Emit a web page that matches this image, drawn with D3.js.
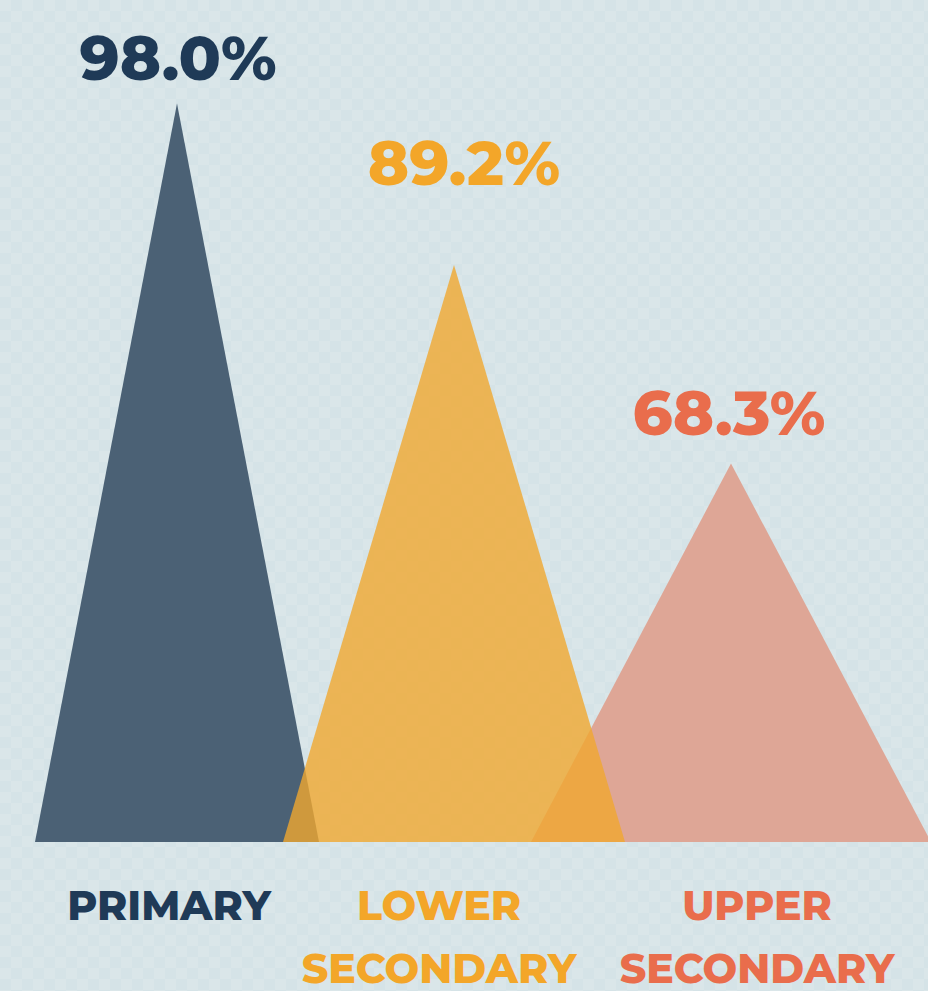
<!DOCTYPE html>
<html>
<head>
<meta charset="utf-8">
<script src="https://cdn.jsdelivr.net/npm/d3@7"></script>
<style>
  html, body { margin: 0; padding: 0; background: #d5e3e7; }
  svg { display: block; }
  text { font-family: Montserrat, Inter, "Open Sans", sans-serif; font-weight: 800; }
</style>
</head>
<body>
<svg id="chart" width="928" height="991"></svg>
<script>
// data
var categories = ["PRIMARY", "LOWER SECONDARY", "UPPER SECONDARY"];
var values = [98.0, 89.2, 68.3];
var valueLabels = ["98.0%", "89.2%", "68.3%"];

var svg = d3.select("#chart"),
    width = +svg.attr("width"),
    height = +svg.attr("height"),
    baseY = 842;

// colours: text / triangle fill
var textColor = ["#1f3a57", "#f3a629", "#e96d4c"],
    fillColor = ["#4b6175", "#f0a830", "#dea696"],
    fillOpacity = [1, 0.8, 1];

// background with a faint checker texture
var defs = svg.append("defs");
var pat = defs.append("pattern")
    .attr("id", "bgpat")
    .attr("width", 22).attr("height", 22)
    .attr("patternUnits", "userSpaceOnUse");
pat.append("rect").attr("width", 22).attr("height", 22).attr("fill", "#d5e3e7");
pat.append("rect").attr("width", 11).attr("height", 11).attr("fill", "#dae6e9");
pat.append("rect").attr("x", 11).attr("y", 11).attr("width", 11).attr("height", 11).attr("fill", "#dae6e9");
svg.append("rect").attr("width", width).attr("height", height).attr("fill", "url(#bgpat)");

// scales - the infographic's vertical scale is not linear, so a stepped (polylinear) one
var y = d3.scaleLinear()
    .domain([0, 70, 90, 100])
    .range([baseY, 454, 257, 65]);

var x = d3.scalePoint()
    .domain(categories)
    .range([177, 731]);

// each triangle gets a wider base than the one before
var halfW = d3.scaleLinear().domain([0, categories.length - 1]).range([142, 200]);

var rows = categories.map(function(c, i) {
    return { cat: c, value: values[i], label: valueLabels[i], i: i };
});

// drawing order: primary, upper, then lower on top (it is the see-through one)
var order = [0, 2, 1];

svg.append("g")
  .selectAll("path")
  .data(order.map(function(i) { return rows[i]; }))
  .join("path")
    .attr("d", function(d) {
        var cx = x(d.cat), w = halfW(d.i);
        return "M" + (cx - w) + "," + y(0) +
               "L" + cx + "," + y(d.value) +
               "L" + (cx + w) + "," + y(0) + "Z";
    })
    .attr("fill", function(d) { return fillColor[d.i]; })
    .attr("fill-opacity", function(d) { return fillOpacity[d.i]; });

// value labels above apex
var valueDx = [1, 10, -2],
    valueGap = [23, 80, 28];
svg.append("g")
  .selectAll("text")
  .data(rows)
  .join("text")
    .attr("x", function(d) { return x(d.cat) + valueDx[d.i]; })
    .attr("y", function(d) { return y(d.value) - valueGap[d.i]; })
    .attr("text-anchor", "middle")
    .attr("font-size", 62)
    .attr("fill", function(d) { return textColor[d.i]; })
    .text(function(d) { return d.label; });

// category labels underneath, split over two lines
var catDx = [-8, -15, 26];
var catG = svg.append("g")
  .selectAll("text")
  .data(rows)
  .join("text")
    .attr("x", function(d) { return x(d.cat) + catDx[d.i]; })
    .attr("y", 920)
    .attr("text-anchor", "middle")
    .attr("font-size", 41)
    .attr("fill", function(d) { return textColor[d.i]; });

catG.selectAll("tspan")
  .data(function(d) {
      var words = d.cat.split(" ");
      return words.map(function(w) { return { w: w, x: x(d.cat) + catDx[d.i] }; });
  })
  .join("tspan")
    .attr("x", function(t) { return t.x; })
    .attr("dy", function(t, j) { return j === 0 ? 0 : 63; })
    .text(function(t) { return t.w; });
</script>
</body>
</html>
